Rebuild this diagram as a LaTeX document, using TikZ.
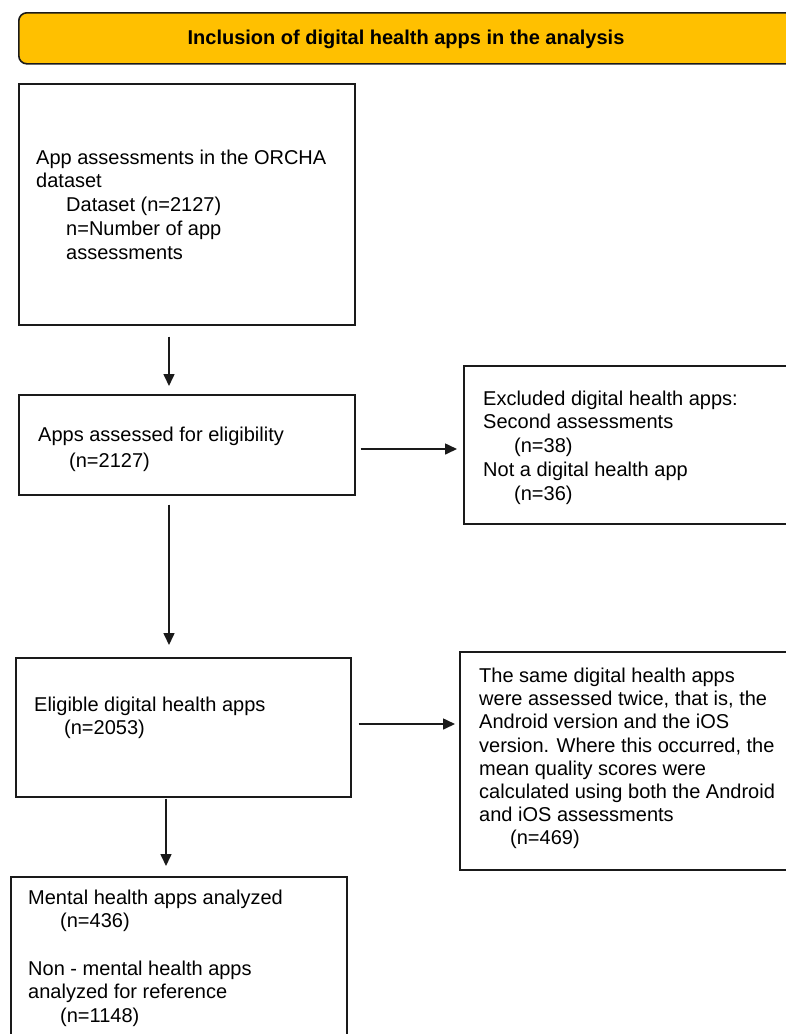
\documentclass[tikz,border=0pt]{standalone}
\usepackage{fontspec}
\setmainfont{Liberation Sans}
\usetikzlibrary{arrows.meta}
\definecolor{hdrfill}{HTML}{FFC000}
\definecolor{edge}{HTML}{1A1A1A}
\begin{document}
\begin{tikzpicture}[x=1pt,y=-1pt,
  box/.style={draw=edge, line width=1.6pt, rectangle, inner sep=0pt, anchor=north west},
  hdr/.style={draw=edge, line width=1.6pt, rectangle, rounded corners=8pt, fill=hdrfill, inner sep=0pt, anchor=north west},
  txt/.style={anchor=base west, inner sep=0pt, font=\fontsize{20}{23}\selectfont, text=black},
  hdrtxt/.style={anchor=base, inner sep=0pt, font=\fontsize{20}{23}\selectfont\bfseries, text=black},
  arr/.style={-{Triangle[length=12pt,width=11pt]}, line width=1.6pt, draw=edge}]
\useasboundingbox (0,0) rectangle (785,1034);
% header
\node[hdr, minimum width=790pt, minimum height=51pt] (header) at (18,12) {};
\node[hdrtxt] (htitle) at (406,44) {Inclusion of digital health apps in the analysis};
% boxes
\node[box, minimum width=336pt, minimum height=241pt] (b1) at (18,83) {};
\node[box, minimum width=336pt, minimum height=100pt] (b2) at (18,394) {};
\node[box, minimum width=340pt, minimum height=158pt] (b3) at (463,365) {};
\node[box, minimum width=335pt, minimum height=139pt] (b4) at (15,657) {};
\node[box, minimum width=340pt, minimum height=218pt] (b5) at (459,651) {};
\node[box, minimum width=336pt, minimum height=180pt] (b6) at (10,876) {};
% texts box 1
\node[txt] (t1a) at (36,164) {App assessments in the ORCHA};
\node[txt] (t1b) at (36,187.5) {dataset};
\node[txt] (t1c) at (66,211) {Dataset (n=2127)};
\node[txt] (t1d) at (66,235) {n=Number of app};
\node[txt] (t1e) at (66,259) {assessments};
% box 2
\node[txt] (t2a) at (38,441.5) {Apps assessed for eligibility};
\node[txt] (t2b) at (69,467) {(n=2127)};
% box 3
\node[txt] (t3a) at (483,405) {Excluded digital health apps:};
\node[txt] (t3b) at (483,428.5) {Second assessments};
\node[txt] (t3c) at (514,452.5) {(n=38)};
\node[txt] (t3d) at (483,476) {Not a digital health app};
\node[txt] (t3e) at (514,500) {(n=36)};
% box 4
\node[txt] (t4a) at (34,711) {Eligible digital health apps};
\node[txt] (t4b) at (64,734) {(n=2053)};
% box 5
\node[txt] (t5a) at (479,682) {The same digital health apps};
\node[txt] (t5b) at (479,705) {were assessed twice, that is, the};
\node[txt] (t5c) at (479,728.5) {Android version and the iOS};
\node[txt] (t5d) at (479,752) {version. Where this occurred, the};
\node[txt] (t5e) at (479,775) {mean quality scores were};
\node[txt] (t5f) at (479,798) {calculated using both the Android};
\node[txt] (t5g) at (479,821) {and iOS assessments};
\node[txt] (t5h) at (510,844) {(n=469)};
% box 6
\node[txt] (t6a) at (28,904) {Mental health apps analyzed};
\node[txt] (t6b) at (60,927) {(n=436)};
\node[txt] (t6c) at (28,975) {Non - mental health apps};
\node[txt] (t6d) at (28,998.5) {analyzed for reference};
\node[txt] (t6e) at (60,1022.5) {(n=1148)};
% connector guides
\coordinate (v1) at (169,0);
\coordinate (v2) at (166,0);
\coordinate (h1) at (0,449);
\coordinate (h2) at (0,724);
% arrows
\draw[arr, shorten <=11pt, shorten >=8pt] (b1.south -| v1) -- (b2.north -| v1);
\draw[arr, shorten <=5pt, shorten >=6pt] (b2.east |- h1) -- (b3.west |- h1);
\draw[arr, shorten <=9pt, shorten >=12pt] (b2.south -| v1) -- (b4.north -| v1);
\draw[arr, shorten <=7pt, shorten >=4pt] (b4.east |- h2) -- (b5.west |- h2);
\draw[arr, shorten <=1pt, shorten >=10pt] (b4.south -| v2) -- (b6.north -| v2);
\end{tikzpicture}
\end{document}
